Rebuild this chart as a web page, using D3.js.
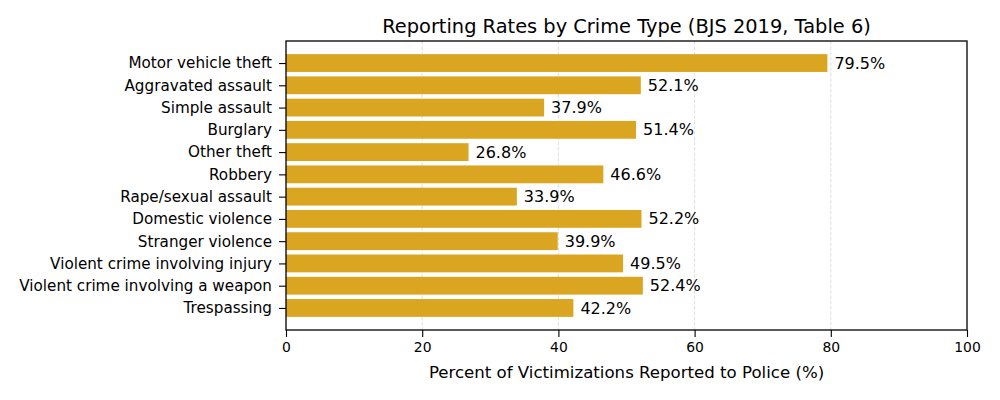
<!DOCTYPE html>
<html>
<head>
<meta charset="utf-8">
<script src="https://cdn.jsdelivr.net/npm/d3@7"></script>
<style>
  body { margin: 0; background: #fff; }
  svg { display: block; font-family: "DejaVu Sans", sans-serif; }
</style>
</head>
<body>
<svg id="chart" width="1000" height="400"></svg>
<script>
// data (BJS 2019, Table 6)
var CATEGORIES = [
  "Motor vehicle theft", "Aggravated assault", "Simple assault", "Burglary",
  "Other theft", "Robbery", "Rape/sexual assault", "Domestic violence",
  "Stranger violence", "Violent crime involving injury",
  "Violent crime involving a weapon", "Trespassing"
];
var RATES = [79.5, 52.1, 37.9, 51.4, 26.8, 46.6, 33.9, 52.2, 39.9, 49.5, 52.4, 42.2];
var X_TICKS = [0, 20, 40, 60, 80, 100];

var svg = d3.select("#chart");
var pL = 286, pR = 967, pT = 41, pB = 330;

var x = d3.scaleLinear().domain([0, 100]).range([pL, pR]);
// matplotlib-style: bar height 0.8, 5% margins
var n = CATEGORIES.length;
var pad = (n - 0.2) * 0.05;
var y = d3.scaleLinear().domain([-0.4 - pad, n - 0.6 + pad]).range([pT, pB]);
var bh = y(0.4) - y(-0.4);

// grid
svg.append("g").selectAll("line").data(X_TICKS.slice(1, -1)).enter().append("line")
  .attr("x1", function(d){ return x(d); }).attr("x2", function(d){ return x(d); })
  .attr("y1", pT).attr("y2", pB)
  .attr("stroke", "#b0b0b0").attr("stroke-opacity", 0.5)
  .attr("stroke-dasharray", "3.7,1.6").attr("stroke-width", 0.8);

// bars
svg.append("g").selectAll("rect").data(RATES).enter().append("rect")
  .attr("x", x(0))
  .attr("y", function(d, i){ return y(i) - bh / 2; })
  .attr("width", function(d){ return x(d) - x(0); })
  .attr("height", bh)
  .attr("fill", "#DAA520");

// value labels
svg.append("g").selectAll("text").data(RATES).enter().append("text")
  .attr("x", function(d){ return x(d) + 7; })
  .attr("y", function(d, i){ return y(i); })
  .attr("dy", "0.35em")
  .attr("font-size", "16px")
  .text(function(d){ return d.toFixed(1) + "%"; });

// axes
var xAxis = d3.axisBottom(x).tickValues(X_TICKS).tickSize(7).tickPadding(5).tickFormat(d3.format("d"));
var gx = svg.append("g").attr("transform", "translate(0," + pB + ")").call(xAxis);
gx.select(".domain").remove();
gx.selectAll("text").attr("font-size", "13.9px").attr("fill", "#000").attr("font-family", "DejaVu Sans");
gx.selectAll("line").attr("stroke", "#000").attr("stroke-width", 1.1);

var yAxis = d3.axisLeft(y).tickValues(d3.range(n)).tickSize(7).tickPadding(7)
  .tickFormat(function(i){ return CATEGORIES[i]; });
var gy = svg.append("g").attr("transform", "translate(" + pL + ",0)").call(yAxis);
gy.select(".domain").remove();
gy.selectAll("text").attr("font-size", "15.2px").attr("fill", "#000").attr("font-family", "DejaVu Sans");
gy.selectAll("line").attr("stroke", "#000").attr("stroke-width", 1.1);

// frame
svg.append("rect").attr("x", pL).attr("y", pT).attr("width", pR - pL).attr("height", pB - pT)
  .attr("fill", "none").attr("stroke", "#000").attr("stroke-width", 1.3);

svg.append("text").attr("x", (pL + pR) / 2).attr("y", 33)
  .attr("text-anchor", "middle").attr("font-size", "19.4px")
  .text("Reporting Rates by Crime Type (BJS 2019, Table 6)");

svg.append("text").attr("x", (pL + pR) / 2).attr("y", 378)
  .attr("text-anchor", "middle").attr("font-size", "16.6px")
  .text("Percent of Victimizations Reported to Police (%)");
</script>
</body>
</html>
